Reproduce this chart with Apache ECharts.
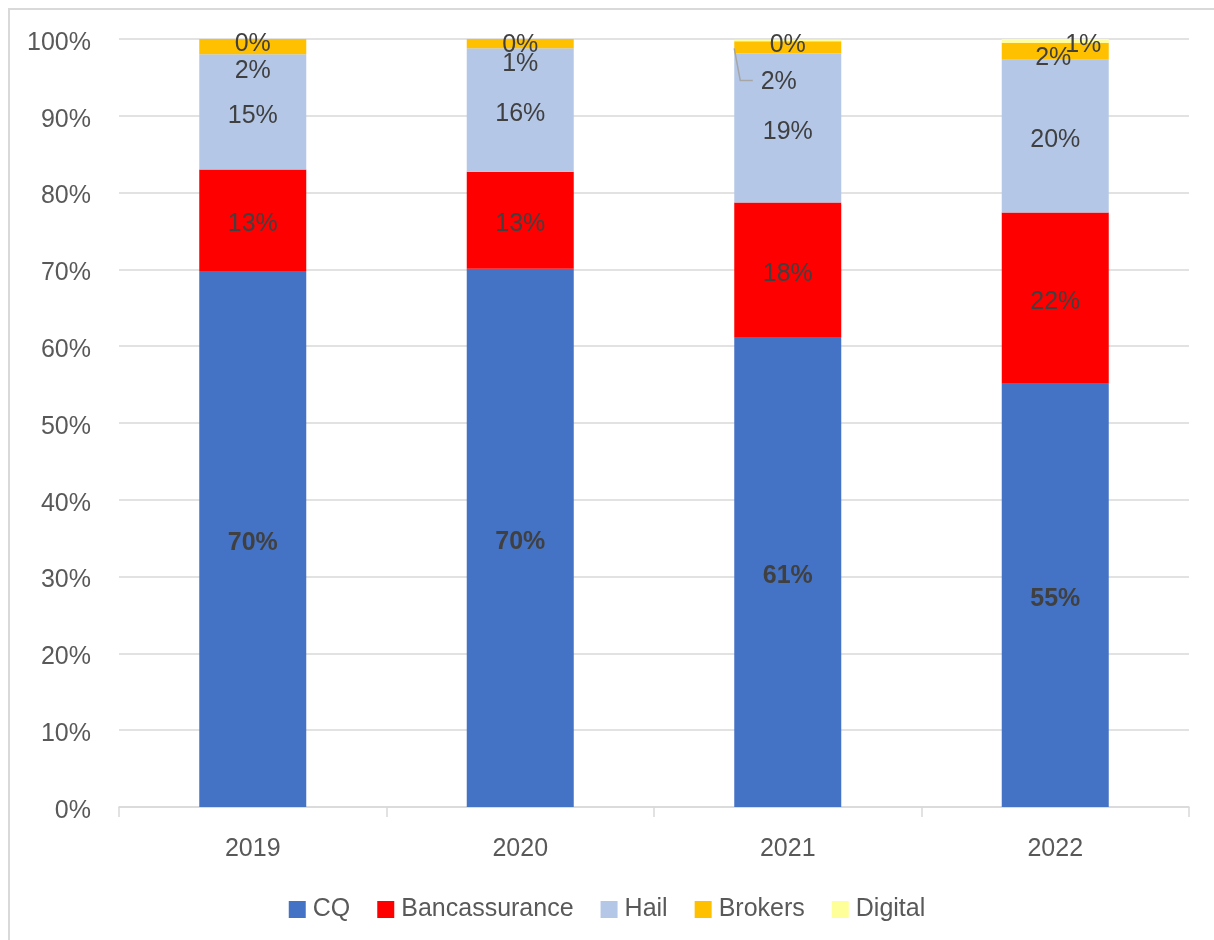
<!DOCTYPE html>
<html>
<head>
<meta charset="utf-8">
<script src="https://cdn.jsdelivr.net/npm/echarts@6/dist/echarts.min.js"></script>
<style>
  html, body { margin: 0; padding: 0; background: #fff; overflow: hidden; }
  #frame { position: absolute; left: 8px; top: 8px; width: 1300px; height: 1000px;
           border-left: 2px solid #d9d9d9; border-top: 2px solid #d9d9d9; }
  #chart { position: absolute; left: 0; top: 0; width: 1214px; height: 940px; }
</style>
</head>
<body>
<div id="frame"></div>
<div id="chart"></div>
<script>
// categories and shares (%)
const years = ['2019', '2020', '2021', '2022']
const cq = [69.8, 70.1, 61.2, 55.1]
const bancassurance = [13.2, 12.6, 17.5, 22.3]
const hail = [15.0, 16.1, 19.4, 19.9]
const brokers = [2.0, 1.2, 1.6, 2.2]
const digital = [0.0, 0.0, 0.2, 0.5]
const yTicks = [0, 10, 20, 30, 40, 50, 60, 70, 80, 90, 100]

const FONT = "'Liberation Sans', Arial, sans-serif"
const LABEL_COLOR = '#404040'
const AXIS_COLOR = '#595959'
const LINE_COLOR = '#d9d9d9'
const BASE_DY = 4

// manual label shifts (like the dragged labels in the original)
const labelShift = {
  Brokers: [[0, 20], [0, 17], [-9, 31], [-2, 3]],
  Digital: [[0, 1], [0, 2], [0, 1], [28, 0]]
}

const chart = echarts.init(document.getElementById('chart'))

const makeSeries = (name, values, color, bold) => {
  const shifts = labelShift[name]
  return {
    name,
    type: 'bar',
    stack: 'total',
    barWidth: 107,
    itemStyle: { color },
    label: {
      show: true,
      position: 'inside',
      fontFamily: FONT,
      fontSize: 25,
      fontWeight: bold ? 'bold' : 'normal',
      color: LABEL_COLOR,
      formatter: (p) => Math.round(p.value) + '%'
    },
    labelLayout: (params) => {
      const s = shifts ? shifts[params.dataIndex] : [0, 0]
      return { dx: s[0], dy: s[1] + BASE_DY }
    },
    data: values
  }
}

const option = {
  animation: false,
  grid: { left: 119, right: 25, top: 39, bottom: 133 },
  legend: {
    bottom: 13,
    left: 'center',
    icon: 'rect',
    itemWidth: 17,
    itemHeight: 17,
    itemGap: 27,
    textStyle: { fontFamily: FONT, fontSize: 25, color: AXIS_COLOR, padding: [0, 0, 0, 2] },
    data: ['CQ', 'Bancassurance', 'Hail', 'Brokers', 'Digital']
  },
  xAxis: {
    type: 'category',
    data: years,
    axisLine: { lineStyle: { color: LINE_COLOR, width: 1.5 } },
    axisTick: { show: true, length: 10, lineStyle: { color: LINE_COLOR, width: 1.5 } },
    axisLabel: { fontFamily: FONT, fontSize: 25, color: AXIS_COLOR, margin: 30 }
  },
  yAxis: {
    type: 'value',
    min: yTicks[0],
    max: yTicks[yTicks.length - 1],
    interval: 10,
    axisLine: { show: false },
    axisTick: { show: false },
    splitLine: { lineStyle: { color: LINE_COLOR, width: 1.5 } },
    axisLabel: {
      margin: 28,
      formatter: (v) => '{t|' + v + '%}',
      rich: {
        t: { fontFamily: FONT, fontSize: 25, color: AXIS_COLOR, padding: [8, 0, 0, 0] }
      }
    }
  },
  series: [
    makeSeries('CQ', cq, '#4472C4', true),
    makeSeries('Bancassurance', bancassurance, '#FF0000', false),
    makeSeries('Hail', hail, '#B4C7E7', false),
    makeSeries('Brokers', brokers, '#FFC000', false),
    makeSeries('Digital', digital, '#FFFF99', false)
  ]
}

chart.setOption(option)

// leader line for the dragged 2021 Brokers label, placed through the chart's own scales
const drawLeader = () => {
  const i = 2
  const segTop = cq[i] + bancassurance[i] + hail[i] + brokers[i]
  const barCenter = chart.convertToPixel({ gridIndex: 0 }, [i, segTop])
  const labelPt = chart.convertToPixel({ gridIndex: 0 }, [i, segTop - brokers[i] / 2])
  const half = 107 / 2
  const x0 = barCenter[0] - half
  const lx = labelPt[0] + labelShift.Brokers[i][0] - 26
  const ly = labelPt[1] + labelShift.Brokers[i][1] + BASE_DY - 2
  chart.setOption({
    graphic: [{
      type: 'polyline',
      z: 100,
      shape: { points: [[lx, ly], [x0 + 6, ly], [x0, barCenter[1] + 7]] },
      style: { stroke: '#a6a6a6', lineWidth: 1.5, fill: null }
    }]
  })
}
drawLeader()
</script>
</body>
</html>
